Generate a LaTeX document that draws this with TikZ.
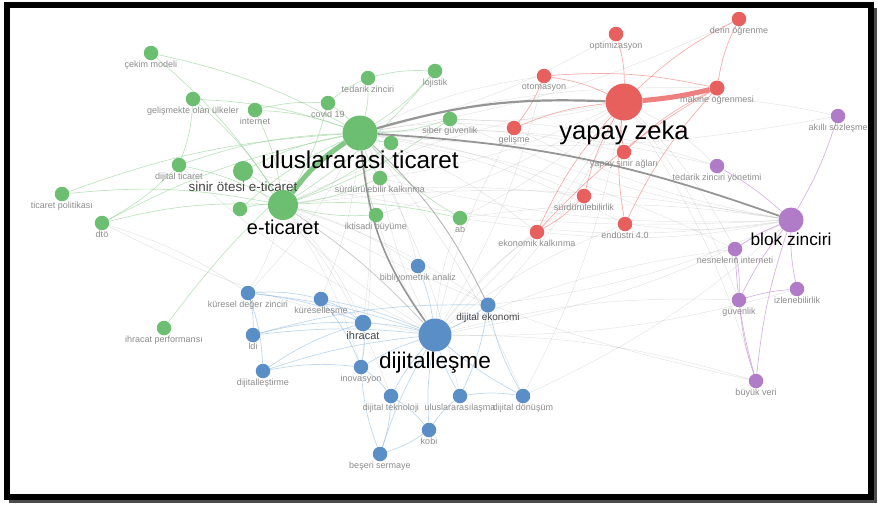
\documentclass[tikz,border=0pt]{standalone}
\usepackage{fontspec}
\setmainfont{Liberation Sans}
\usetikzlibrary{backgrounds}
\definecolor{vgreen}{RGB}{108,190,112}
\definecolor{vred}{RGB}{232,96,94}
\definecolor{vblue}{RGB}{90,142,198}
\definecolor{vpurple}{RGB}{176,124,200}
\definecolor{lblgrey}{RGB}{140,140,140}
\definecolor{midgrey}{RGB}{70,70,70}
\definecolor{egreen}{RGB}{150,210,153}
\definecolor{ered}{RGB}{240,140,138}
\definecolor{eblue}{RGB}{150,190,225}
\definecolor{epurple}{RGB}{196,150,215}
\definecolor{egrey}{RGB}{150,150,150}
\tikzset{kw/.style={circle, inner sep=0pt, minimum size=14.5pt, label distance=1pt},
grn/.style={kw, fill=vgreen}, rd/.style={kw, fill=vred},
bl/.style={kw, fill=vblue}, pr/.style={kw, fill=vpurple},
lbl/.style={inner sep=0pt, text=lblgrey, font=\fontsize{9}{9}\selectfont},
midlbl/.style={inner sep=0pt, text=midgrey, font=\fontsize{#1}{#1}\selectfont},
biglbl/.style={inner sep=0pt, text=black, font=\fontsize{#1}{#1}\selectfont},
gedge/.style={draw=egreen, line width=0.7pt, opacity=0.6},
redge/.style={draw=ered, line width=0.7pt, opacity=0.7},
bedge/.style={draw=eblue, line width=0.7pt, opacity=0.6},
pedge/.style={draw=epurple, line width=0.7pt, opacity=0.7},
xedge/.style={draw=egrey, line width=0.5pt, opacity=0.25},
hub/.style={draw=egrey, line width=#1}}

\begin{document}
\begin{tikzpicture}[x=1pt, y=-1pt]
  \useasboundingbox (0,0) rectangle (878,504);
  \node[grn, label={[lbl]below:çekim modeli}] (cekim) at (151,53) {};
  \node[grn, label={[lbl]below:gelişmekte olan ülkeler}] (gelismekte) at (193,99) {};
  \node[grn, label={[lbl]below:internet}] (internet) at (255,110) {};
  \node[grn, label={[lbl]below:dijital ticaret}] (dticaret) at (179,165) {};
  \node[grn, minimum size=20pt, label distance=3pt,
    label={[midlbl=13.4]below:sinir ötesi e-ticaret}] (sinir) at (243,171) {};
  \node[grn, label={[lbl]below:ticaret politikası}] (tpol) at (62,194) {};
  \node[grn, label={[lbl]below:dtö}] (dto) at (102,223) {};
  \node[grn, minimum size=30pt, label distance=2pt,
    label={[biglbl=20]below:e-ticaret}] (eticaret) at (283,205) {};
  \node[grn] (gx) at (240,209) {};
  \node[grn, minimum size=35pt, label distance=3pt,
    label={[biglbl=24.3]below:uluslararasi ticaret}] (ulus) at (360,133) {};
  \node[grn, label={[lbl]below:tedarik zinciri}] (tedarik) at (368,78) {};
  \node[grn, label={[lbl]below:lojistik}] (lojistik) at (435,71) {};
  \node[grn, label={[lbl]below:covid 19}] (covid) at (328,103) {};
  \node[grn, label={[lbl]below:siber güvenlik}] (siber) at (450,119) {};
  \node[grn] (gy) at (391,143) {};
  \node[grn, label={[lbl]below:sürdürülebilir kalkınma}] (surkal) at (380,178) {};
  \node[grn, label={[lbl]below:iktisadi büyüme}] (iktisadi) at (376,215) {};
  \node[grn, label={[lbl]below:ab}] (ab) at (460,218) {};
  \node[grn, label={[lbl]below:ihracat performansı}] (ihrperf) at (164,328) {};

  \node[rd, minimum size=37pt, label distance=3pt,
    label={[biglbl=25.6]below:yapay zeka}] (yz) at (624,102) {};
  \node[rd, label={[lbl]below:optimizasyon}] (optim) at (616,34) {};
  \node[rd, label={[lbl]below:derin öğrenme}] (derin) at (739,19) {};
  \node[rd, label={[lbl]below:otomasyon}] (otomasyon) at (544,76) {};
  \node[rd, minimum size=15pt, label={[lbl]below:makine öğrenmesi}] (makine) at (717,88) {};
  \node[rd, label={[lbl]below:gelişme}] (gelisme) at (514,128) {};
  \node[rd, label={[lbl]below:yapay sinir ağları}] (ysa) at (624,152) {};
  \node[rd, label={[lbl]below:sürdürülebilirlik}] (surdur) at (584,196) {};
  \node[rd, label={[lbl]below:ekonomik kalkınma}] (ekokal) at (537,232) {};
  \node[rd, label={[lbl]below:endüstri 4.0}] (endustri) at (625,224) {};

  \node[pr, minimum size=25pt, label distance=0.5pt,
    label={[biglbl=17.3]below:blok zinciri}] (blok) at (791,220) {};
  \node[pr, label={[lbl]below:akıllı sözleşme}] (akilli) at (838,116) {};
  \node[pr, label={[lbl]below:tedarik zinciri yönetimi}] (tzy) at (717,166) {};
  \node[pr, label={[lbl]below:nesnelerin interneti}] (iot) at (735,249) {};
  \node[pr, label={[lbl]below:güvenlik}] (guvenlik) at (739,300) {};
  \node[pr, label={[lbl]below:izlenebilirlik}] (izlen) at (797,289) {};
  \node[pr, label={[lbl]below:büyük veri}] (buyuk) at (756,381) {};

  \node[bl, minimum size=33pt, label distance=2pt,
    label={[biglbl=22.6]below:dijitalleşme}] (dijl) at (435,335) {};
  \node[bl, label={[lbl]below:bibliyometrik analiz}] (bibl) at (418,266) {};
  \node[bl, label={[lbl]below:küreselleşme}] (kuresellesme) at (321,299) {};
  \node[bl, minimum size=16.5pt, label={[midlbl=11]below:ihracat}] (ihracat) at (363,323) {};
  \node[bl, minimum size=15pt, label={[midlbl=10]below:dijital ekonomi}] (dijeko) at (488,305) {};
  \node[bl, label={[lbl]below:inovasyon}] (inov) at (361,367) {};
  \node[bl, label={[lbl]below:dijital teknoloji}] (dijtek) at (391,396) {};
  \node[bl, label={[lbl]below:uluslararasılaşma}] (ulusl) at (460,396) {};
  \node[bl, label={[lbl]below:dijital dönüşüm}] (dijdon) at (523,396) {};
  \node[bl, label={[lbl]below:kobi}] (kobi) at (429,430) {};
  \node[bl, label={[lbl]below:beşeri sermaye}] (beseri) at (380,454) {};
  \node[bl, label={[lbl]below:küresel değer zinciri}] (kdz) at (248,293) {};
  \node[bl, label={[lbl]below:ldi}] (ldi) at (253,335) {};
  \node[bl, label={[lbl]below:dijitalleştirme}] (dijlt) at (263,371) {};

  \begin{scope}[on background layer]
    \foreach \a/\b in {ulus/otomasyon, ulus/gelisme, ulus/ysa, ulus/surdur, ulus/ekokal,
      ulus/endustri, ulus/makine, ulus/tzy, ulus/iot, ulus/bibl, ulus/ihracat, ulus/kdz,
      ulus/kuresellesme, ulus/inov, ulus/ulusl, ulus/dijdon, eticaret/yz, eticaret/blok,
      eticaret/dijeko, eticaret/ihracat, eticaret/kdz, eticaret/inov, eticaret/dijtek,
      eticaret/bibl, eticaret/surdur, yz/dijl, yz/siber, yz/ab, yz/surkal, yz/iktisadi,
      yz/dijeko, yz/dijdon, yz/iot, yz/buyuk, yz/guvenlik, yz/tzy, yz/akilli, blok/dijl,
      blok/dijeko, blok/dijdon, blok/siber, blok/ab, blok/gelisme, blok/ekokal,
      blok/endustri, blok/surkal, blok/sinir, dijl/iktisadi, dijl/ab, dijl/surkal,
      dijl/sinir, dijl/ekokal, dijl/endustri, dijl/surdur, dijl/gelisme, dijl/buyuk,
      dijl/iot, dijl/guvenlik, dijl/dticaret, dijl/dto, dto/kdz, ab/blok, siber/tzy,
      otomasyon/dijl, optim/ulus, derin/ulus, akilli/ulus, buyuk/eticaret, izlen/dijl}
      \draw[xedge] (\a) to[bend left=8] (\b);
    \foreach \a/\b in {cekim/ulus, cekim/eticaret, gelismekte/ulus, gelismekte/eticaret,
      internet/ulus, internet/eticaret, dticaret/ulus, dticaret/eticaret, dticaret/dto,
      tpol/ulus, tpol/eticaret, dto/ulus, dto/eticaret, ihrperf/ulus, sinir/ulus,
      sinir/eticaret, covid/ulus, covid/eticaret, covid/tedarik, tedarik/ulus,
      tedarik/lojistik, lojistik/ulus, lojistik/eticaret, siber/ulus, siber/eticaret,
      surkal/ulus, surkal/eticaret, iktisadi/ulus, iktisadi/eticaret, ab/ulus, eticaret/ab,
      gx/eticaret, gy/ulus, gx/ulus, gy/eticaret, internet/covid, gelismekte/dticaret}
      \draw[gedge] (\a) to[bend left=8] (\b);
    \foreach \a/\b in {optim/yz, yz/derin, makine/derin, otomasyon/yz, otomasyon/gelisme,
      gelisme/yz, ysa/yz, surdur/yz, ekokal/yz, endustri/yz, surdur/ekokal, ekokal/makine,
      endustri/makine, ysa/makine, otomasyon/makine}
      \draw[redge] (\a) to[bend left=8] (\b);
    \foreach \a/\b in {akilli/blok, tzy/blok, iot/blok, guvenlik/blok, izlen/blok,
      buyuk/blok, guvenlik/izlen, iot/guvenlik, buyuk/iot, buyuk/guvenlik}
      \draw[pedge] (\a) to[bend left=6] (\b);
    \foreach \a in {bibl, kuresellesme, ihracat, dijeko, inov, dijtek, ulusl, dijdon,
      kobi, beseri, kdz, ldi, dijlt}
      \draw[bedge] (\a) to[bend left=6] (dijl);
    \foreach \a/\b in {kdz/kuresellesme, kdz/ihracat, kdz/dijlt, kdz/ldi, ldi/ihracat,
      dijlt/inov, dijlt/ihracat, kuresellesme/ihracat, kuresellesme/inov, ihracat/inov,
      inov/dijtek, dijtek/kobi, dijtek/beseri, kobi/ulusl, ulusl/dijdon, dijdon/dijeko,
      beseri/inov, kobi/beseri, dijeko/ulusl, ldi/dijeko}
      \draw[bedge] (\a) to[bend left=8] (\b);
    \draw[hub=2.2pt] (ulus) to[bend left=9] (yz);
    \draw[hub=1.8pt] (ulus) to[bend left=8] (blok);
    \draw[hub=1.6pt] (dijl) to[bend left=15] (ulus);
    \draw[hub=0.9pt, opacity=0.7] (ulus) to[bend left=10] (dijeko);
    \draw[hub=0.8pt, opacity=0.5] (eticaret) to[bend left=6] (dijl);
    \draw[draw=vgreen!85, line width=5pt] (eticaret) to[bend left=10] (ulus);
    \draw[draw=vred!80, line width=5pt] (yz) to[bend right=4] (makine);
  \end{scope}

  \draw[line width=6pt] (7,4.5) rectangle (870.5,496.5);
  \draw[black!70, line width=3pt] (9,501) -- (875,501) -- (875,8);
\end{tikzpicture}
\end{document}
